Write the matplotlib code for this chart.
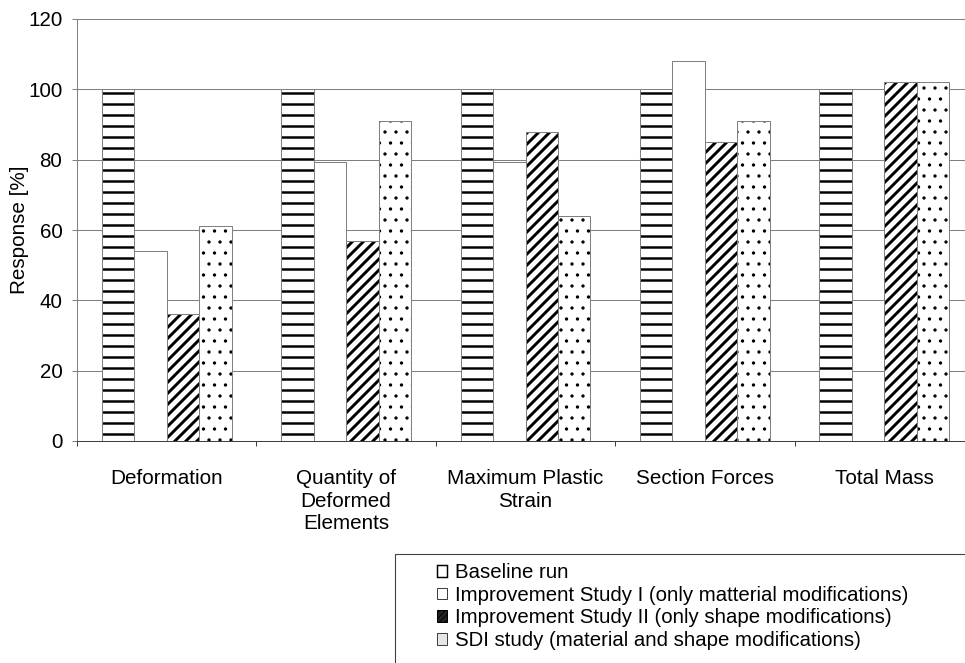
import matplotlib
matplotlib.use('Agg')
import matplotlib.pyplot as plt
import numpy as np
from matplotlib.patches import Patch, Rectangle

# ---- data ----
categories = ["Deformation", "Quantity of\nDeformed\nElements", "Maximum Plastic\nStrain",
              "Section Forces", "Total Mass"]
series_names = ["Baseline run",
                "Improvement Study I (only matterial modifications)",
                "Improvement Study II (only shape modifications)",
                "SDI study (material and shape modifications)"]
baseline = [100, 100, 100, 100, 100]
study_1 = [54, 79.2, 79.4, 108, np.nan]
study_2 = [36, 57, 88, 85, 102]
sdi = [61, 91, 64, 91, 102]
yticks = [0, 20, 40, 60, 80, 100, 120]

# ---- figure ----
DPI = 66
W, H = 965, 663
plt.rcParams['font.family'] = ['Liberation Sans', 'DejaVu Sans']
FS = 22.5
fig = plt.figure(figsize=(W / DPI, H / DPI), dpi=DPI)
fig.patch.set_facecolor('white')

ax = fig.add_axes([77 / W, 1 - 441 / H, (974 - 77) / W, (441 - 19) / H])
ax.set_xlim(0, len(categories))
ax.set_ylim(0, 120)

x = np.arange(len(categories)) + 0.5
bw = 0.181
values = [baseline, study_1, study_2, sdi]
hatches = ['-', None, '//', '.']
hatch_lw = [2.7, 1.0, 3.2, 1.2]
outline = '#808080'

for i, (vals, hat, hlw) in enumerate(zip(values, hatches, hatch_lw)):
    pos = x + (i - 1.5) * bw
    with plt.rc_context({'hatch.linewidth': hlw}):
        ax.bar(pos, vals, width=bw, color='white', edgecolor='black', linewidth=0,
               hatch=hat, zorder=2)
    ax.bar(pos, vals, width=bw, fill=False, edgecolor=outline, linewidth=1.1, zorder=3)

# grid and axes
ax.set_yticks(yticks)
ax.yaxis.grid(True, color='#808080', linewidth=1.1)
ax.set_axisbelow(True)
ax.tick_params(axis='y', labelsize=FS, length=6, width=1.1, color='#808080',
               direction='out', pad=10)
ax.set_xticks(x)
ax.set_xticklabels(categories, fontsize=FS, linespacing=1.22)
ax.tick_params(axis='x', which='major', length=0, pad=31)
ax.set_xticks(np.arange(len(categories) + 1), minor=True)
ax.tick_params(axis='x', which='minor', length=5.5, width=1.1, color='#404040',
               direction='out')
for s in ['top', 'right']:
    ax.spines[s].set_visible(False)
ax.spines['left'].set_color('#808080')
ax.spines['left'].set_linewidth(1.1)
ax.spines['bottom'].set_color('#404040')
ax.spines['bottom'].set_linewidth(1.1)

ax.set_ylabel('Response [%]', fontsize=FS)
ax.yaxis.set_label_coords(-(77 - 29) / 897, 0.5)

# legend
handles = [
    Patch(facecolor='white', edgecolor='black', linewidth=1.6),
    Patch(facecolor='white', edgecolor='#404040', linewidth=1.1),
    Patch(facecolor='#222222', edgecolor='black', linewidth=1.1, hatch='////'),
    Patch(facecolor='#e6e6e6', edgecolor='#404040', linewidth=1.1),
]
fig.legend(handles, series_names, loc='upper left',
           bbox_to_anchor=(437 / W, 1 - 563 / H), frameon=False,
           handlelength=0.5, handleheight=0.5, handletextpad=0.4,
           labelspacing=0.18, borderpad=0, borderaxespad=0, fontsize=FS - 0.3)
fig.add_artist(Rectangle((395 / W, -0.1), 1.0, (1 - 554 / H) + 0.1,
                         transform=fig.transFigure, fill=False,
                         edgecolor='#404040', linewidth=1.2))

fig.savefig('out.png', dpi=DPI)
